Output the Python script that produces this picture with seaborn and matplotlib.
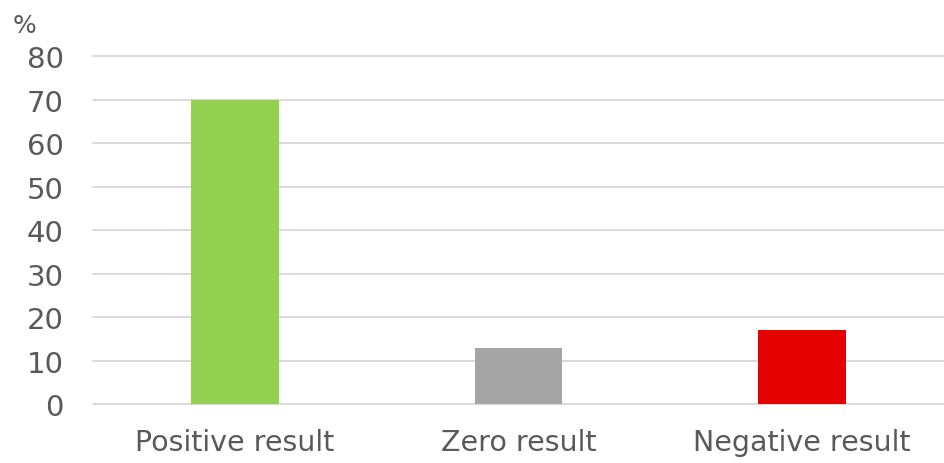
import matplotlib
matplotlib.use("Agg")
import matplotlib.pyplot as plt
import seaborn as sns
import pandas as pd

categories = ["Positive result", "Zero result", "Negative result"]
values = [70, 13, 17]
colors = ["#92D050", "#A5A5A5", "#E60000"]
yticks = [0, 10, 20, 30, 40, 50, 60, 70, 80]

sns.set_theme(style="white")
plt.rcParams['font.family'] = ['DejaVu Sans']

df = pd.DataFrame({"cat": categories, "val": values})

fig = plt.figure(figsize=(9.44, 4.64), dpi=100)
ax = fig.add_axes([0.0985, 0.127, 0.9015, 0.750])
sns.barplot(data=df, x="cat", y="val", hue="cat", palette=colors, width=0.31,
            legend=False, ax=ax, saturation=1, zorder=3, linewidth=0, edgecolor="none")
ax.set_ylim(0, 80)
ax.set_xlim(-0.5, 2.5)
ax.set_yticks(yticks)
ax.set_yticklabels([str(t) for t in yticks])
ax.yaxis.grid(True, color="#D9D9D9", linewidth=1.4, zorder=0)
for gl in ax.get_ygridlines():
    gl.set_clip_on(False)
ax.set_axisbelow(True)
for s in ax.spines.values():
    s.set_visible(False)
ax.set_xlabel("")
ax.set_ylabel("")
ax.tick_params(axis="both", length=0, colors="#595959")
ax.tick_params(axis="y", pad=21, labelsize=21)
ax.tick_params(axis="x", pad=17, labelsize=20.5)
fig.text(0.013, 0.945, "%", fontsize=18, color="#595959", ha="left", va="center")
fig.savefig("out.png", dpi=100)
